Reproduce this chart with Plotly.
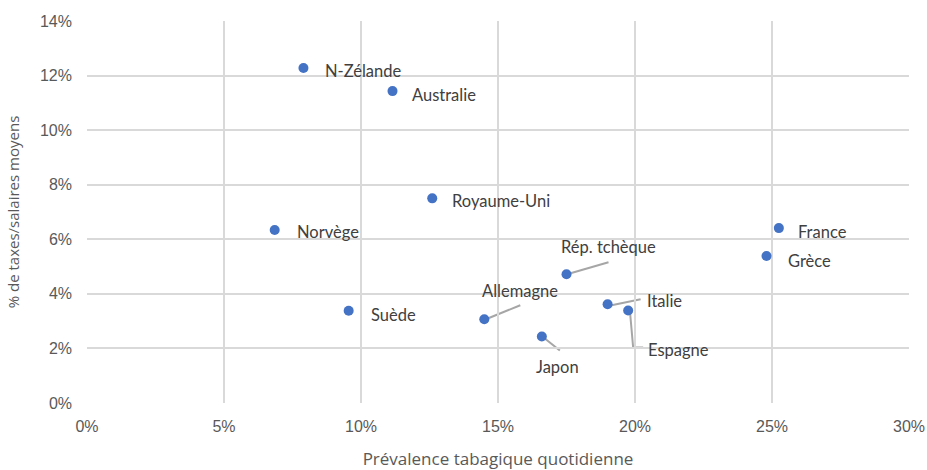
import plotly.graph_objects as go

# Pays, prévalence tabagique quotidienne (%) et taxes en % du salaire moyen
pays = ["N-Zélande", "Australie", "Royaume-Uni", "Norvège", "Suède", "Allemagne",
        "Japon", "Rép. tchèque", "Italie", "Espagne", "France", "Grèce"]
prevalence = [7.9, 11.15, 12.6, 6.85, 9.55, 14.5, 16.6, 17.5, 19.0, 19.75, 25.25, 24.8]
taxes = [12.28, 11.43, 7.5, 6.34, 3.38, 3.07, 2.44, 4.72, 3.62, 3.39, 6.41, 5.39]

x_ticks = [0, 5, 10, 15, 20, 25, 30]
y_ticks = [0, 2, 4, 6, 8, 10, 12, 14]

# Décalage des étiquettes (pixels) : dx, dy, ancrage, trait de rappel
label_layout = {
    "N-Zélande":    (20, -3, "left", None),
    "Australie":    (17, -4, "left", None),
    "Royaume-Uni":  (18, -3, "left", None),
    "Norvège":      (20, -2, "left", None),
    "Suède":        (20, -4, "left", None),
    "France":       (17, -4, "left", None),
    "Grèce":        (19, -5, "left", None),
    "Rép. tchèque": (42, 27, "center", [(4, 1), (42, 12)]),
    "Allemagne":    (36, 28, "center", [(4, 1), (36, 14)]),
    "Japon":        (16, -31, "center", [(3, -2), (18, -14)]),
    "Italie":       (37, 3, "left", [(4, -1), (33, 5)]),
    "Espagne":      (18, -39, "left", [(2, -3), (5, -37), (15, -37)]),
}

label_font = dict(family="Lato, Open Sans, sans-serif", size=16.5, color="#404040")
tick_font = dict(family="Liberation Sans, Arial, sans-serif", size=16, color="#595959")
xtitle_font = dict(family="Open Sans, sans-serif", size=17, color="#595959")
ytitle_font = dict(family="Open Sans, sans-serif", size=15, color="#595959")

fig = go.Figure()
fig.add_trace(go.Scatter(
    x=prevalence, y=taxes, mode="markers",
    marker=dict(color="#4472C4", size=10),
    hoverinfo="text", text=pays, showlegend=False,
))

annotations = []
shapes = []
for name, px, ty in zip(pays, prevalence, taxes):
    dx, dy, anchor, leader = label_layout[name]
    annotations.append(dict(
        x=px, y=ty, xref="x", yref="y", text=name, showarrow=False,
        xshift=dx, yshift=dy, xanchor=anchor, yanchor="middle", font=label_font,
    ))
    if leader:
        path = "M " + " L ".join(f"{a},{b}" for a, b in leader)
        shapes.append(dict(
            type="path", xref="x", yref="y", xsizemode="pixel", ysizemode="pixel",
            xanchor=px, yanchor=ty, path=path,
            line=dict(color="#a6a6a6", width=2), layer="below",
        ))

fig.update_layout(
    width=927, height=470,
    margin=dict(l=87, r=18, t=21, b=67),
    paper_bgcolor="white", plot_bgcolor="white",
    annotations=annotations, shapes=shapes,
    xaxis=dict(
        range=[0, 30], tickvals=x_ticks, ticktext=[f"{v}%" for v in x_ticks],
        showgrid=True, gridcolor="#d9d9d9", gridwidth=1.5, zeroline=False,
        showline=False, tickfont=tick_font, ticklabelstandoff=12, automargin=False,
        title=dict(text="Prévalence tabagique quotidienne", font=xtitle_font, standoff=22),
        fixedrange=True,
    ),
    yaxis=dict(
        range=[0, 14], tickvals=y_ticks, ticktext=[f"{v}%" for v in y_ticks],
        showgrid=True, gridcolor="#d9d9d9", gridwidth=1.5, zeroline=False,
        showline=False, tickfont=tick_font, ticklabelstandoff=14, automargin=False,
        title=dict(text="% de taxes/salaires moyens", font=ytitle_font, standoff=16),
        fixedrange=True,
    ),
)

fig.write_html("out.html")
